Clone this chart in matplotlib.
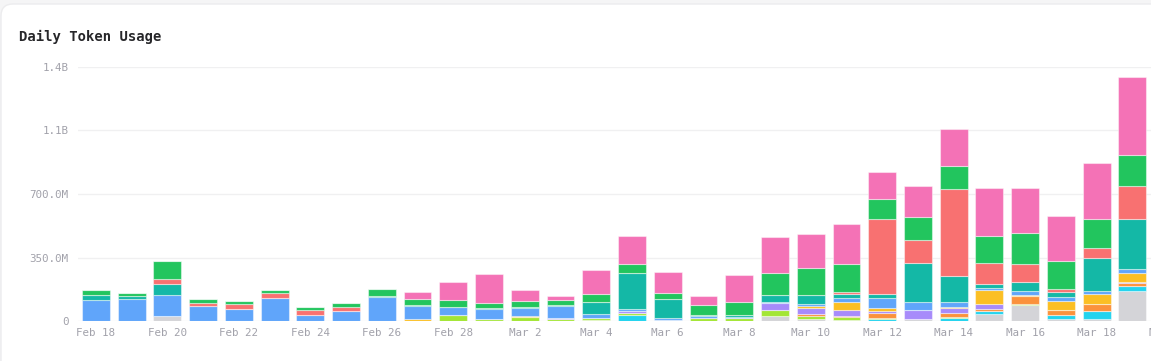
import numpy as np
import matplotlib
matplotlib.use("Agg")
import matplotlib.pyplot as plt
from matplotlib.patches import FancyBboxPatch
from matplotlib.ticker import FuncFormatter, FixedLocator

OUT_PNG = "out.png"

# x labels every other day
DAYS = [
    "Feb 18", "Feb 19", "Feb 20", "Feb 21", "Feb 22", "Feb 23", "Feb 24",
    "Feb 25", "Feb 26", "Feb 27", "Feb 28", "Mar 1", "Mar 2", "Mar 3",
    "Mar 4", "Mar 5", "Mar 6", "Mar 7", "Mar 8", "Mar 9", "Mar 10",
    "Mar 11", "Mar 12", "Mar 13", "Mar 14", "Mar 15", "Mar 16", "Mar 17",
    "Mar 18", "Mar 19", "Mar 20",
]

# token counts in millions, stacked bottom -> top
gray = [0, 0, 27, 0, 0, 0, 0, 0, 0, 0, 0, 0, 0, 0, 5, 0, 5, 0, 0, 26,
        10, 6, 0, 10, 0, 37, 88, 9, 11, 165]
cyan = [0, 0, 0, 0, 0, 0, 0, 0, 0, 0, 0, 0, 0, 0, 0, 33, 0, 0, 0, 0,
        0, 0, 9, 0, 14, 18, 0, 24, 42, 26]
lime = [0, 0, 0, 0, 0, 0, 0, 0, 0, 0, 33, 9, 24, 12, 9, 9, 0, 18, 17, 35,
        18, 15, 9, 0, 6, 0, 5, 0, 0, 0]
orange = [0, 0, 0, 0, 0, 0, 0, 0, 0, 0, 0, 0, 0, 0, 0, 0, 0, 0, 0, 0,
          13, 5, 26, 0, 22, 13, 44, 28, 42, 20]
purple = [0, 0, 0, 0, 0, 0, 0, 0, 0, 0, 0, 0, 0, 4, 0, 13, 0, 0, 0, 37,
          33, 35, 11, 50, 28, 28, 0, 0, 0, 4]
yellow = [0, 0, 0, 0, 0, 0, 0, 0, 0, 9, 0, 0, 4, 0, 0, 0, 0, 0, 0, 0,
          7, 42, 15, 0, 7, 73, 5, 48, 55, 50]
blue = [114, 124, 119, 83, 64, 127, 33, 53, 132, 72, 44, 55, 46, 66, 26, 9, 11, 7, 5, 5,
        15, 22, 55, 42, 26, 15, 22, 22, 17, 20]
teal = [28, 12, 58, 0, 0, 0, 0, 0, 5, 5, 0, 5, 4, 5, 64, 198, 103, 9, 9, 39,
        48, 26, 26, 220, 147, 22, 53, 28, 182, 277]
red = [0, 0, 29, 17, 28, 28, 28, 24, 0, 0, 0, 0, 0, 0, 0, 0, 0, 0, 0, 0,
       0, 9, 409, 125, 475, 116, 95, 17, 51, 182]
green = [28, 18, 99, 20, 17, 15, 17, 22, 37, 38, 40, 28, 31, 29, 44, 50, 35, 53, 75, 123,
         149, 156, 112, 128, 132, 149, 174, 156, 163, 172]
pink = [0, 0, 0, 0, 0, 0, 0, 0, 0, 37, 97, 163, 64, 24, 134, 158, 114, 53, 147, 198,
        189, 216, 147, 167, 204, 260, 249, 248, 306, 427]

SERIES = [
    (gray, "#d4d4d8"),
    (cyan, "#22d3ee"),
    (lime, "#a3e635"),
    (orange, "#fb923c"),
    (purple, "#a78bfa"),
    (yellow, "#fbbf24"),
    (blue, "#60a5fa"),
    (teal, "#14b8a6"),
    (red, "#f87171"),
    (green, "#22c55e"),
    (pink, "#f472b6"),
]

W, H = 1151, 361
fig = plt.figure(figsize=(W / 100, H / 100), dpi=100)
fig.patch.set_facecolor("#f5f5f6")

# white card behind everything
card = FancyBboxPatch((1, -20), W + 40, H - 4 + 20,
                      boxstyle="round,pad=0,rounding_size=12",
                      transform=None, facecolor="white",
                      edgecolor="#ececee", linewidth=1, zorder=-5)
fig.patches.append(card)

ax_left, ax_right = 78, 1186
ax_bottom, ax_top = 321, 67
ax = fig.add_axes([ax_left / W, 1 - ax_bottom / H,
                   (ax_right - ax_left) / W, (ax_bottom - ax_top) / H])
ax.set_facecolor("none")
ax.set_zorder(2)

x = np.arange(len(blue))
bottom = np.zeros(len(blue))
for vals, color in SERIES:
    v = np.array(vals, dtype=float) * 1e6
    ax.bar(x, v, width=0.78, bottom=bottom, color=color,
           edgecolor=(1, 1, 1, 0.45), linewidth=0.8, zorder=3)
    bottom += v

ax.set_xlim(-0.5, 30.5)
ax.set_ylim(0, 1.4e9)


def fmt(v, pos):
    if v == 0:
        return "0"
    if v >= 1e9:
        return f"{v / 1e9:.1f}B"
    return f"{v / 1e6:.1f}M"


ax.yaxis.set_major_locator(FixedLocator([0, 350e6, 700e6, 1050e6, 1400e6]))
ax.yaxis.set_major_formatter(FuncFormatter(fmt))
ticks = list(range(0, len(DAYS), 2))
ax.set_xticks(ticks)
ax.set_xticklabels([DAYS[i] for i in ticks])

ax.grid(axis="y", color="#f0f0f1", linewidth=1)
ax.set_axisbelow(True)
for s in ax.spines.values():
    s.set_visible(False)
ax.tick_params(length=0, labelsize=7.8, labelcolor="#a1a1aa")
ax.tick_params(axis="y", pad=7)
ax.tick_params(axis="x", pad=5)
for lbl in ax.get_xticklabels() + ax.get_yticklabels():
    lbl.set_family("DejaVu Sans Mono")

fig.text(19 / W, 1 - 41 / H, "Daily Token Usage", fontsize=10,
         fontweight="bold", family="DejaVu Sans Mono", color="#27272a",
         va="baseline", ha="left")

fig.savefig(OUT_PNG, dpi=100, facecolor=fig.get_facecolor())
